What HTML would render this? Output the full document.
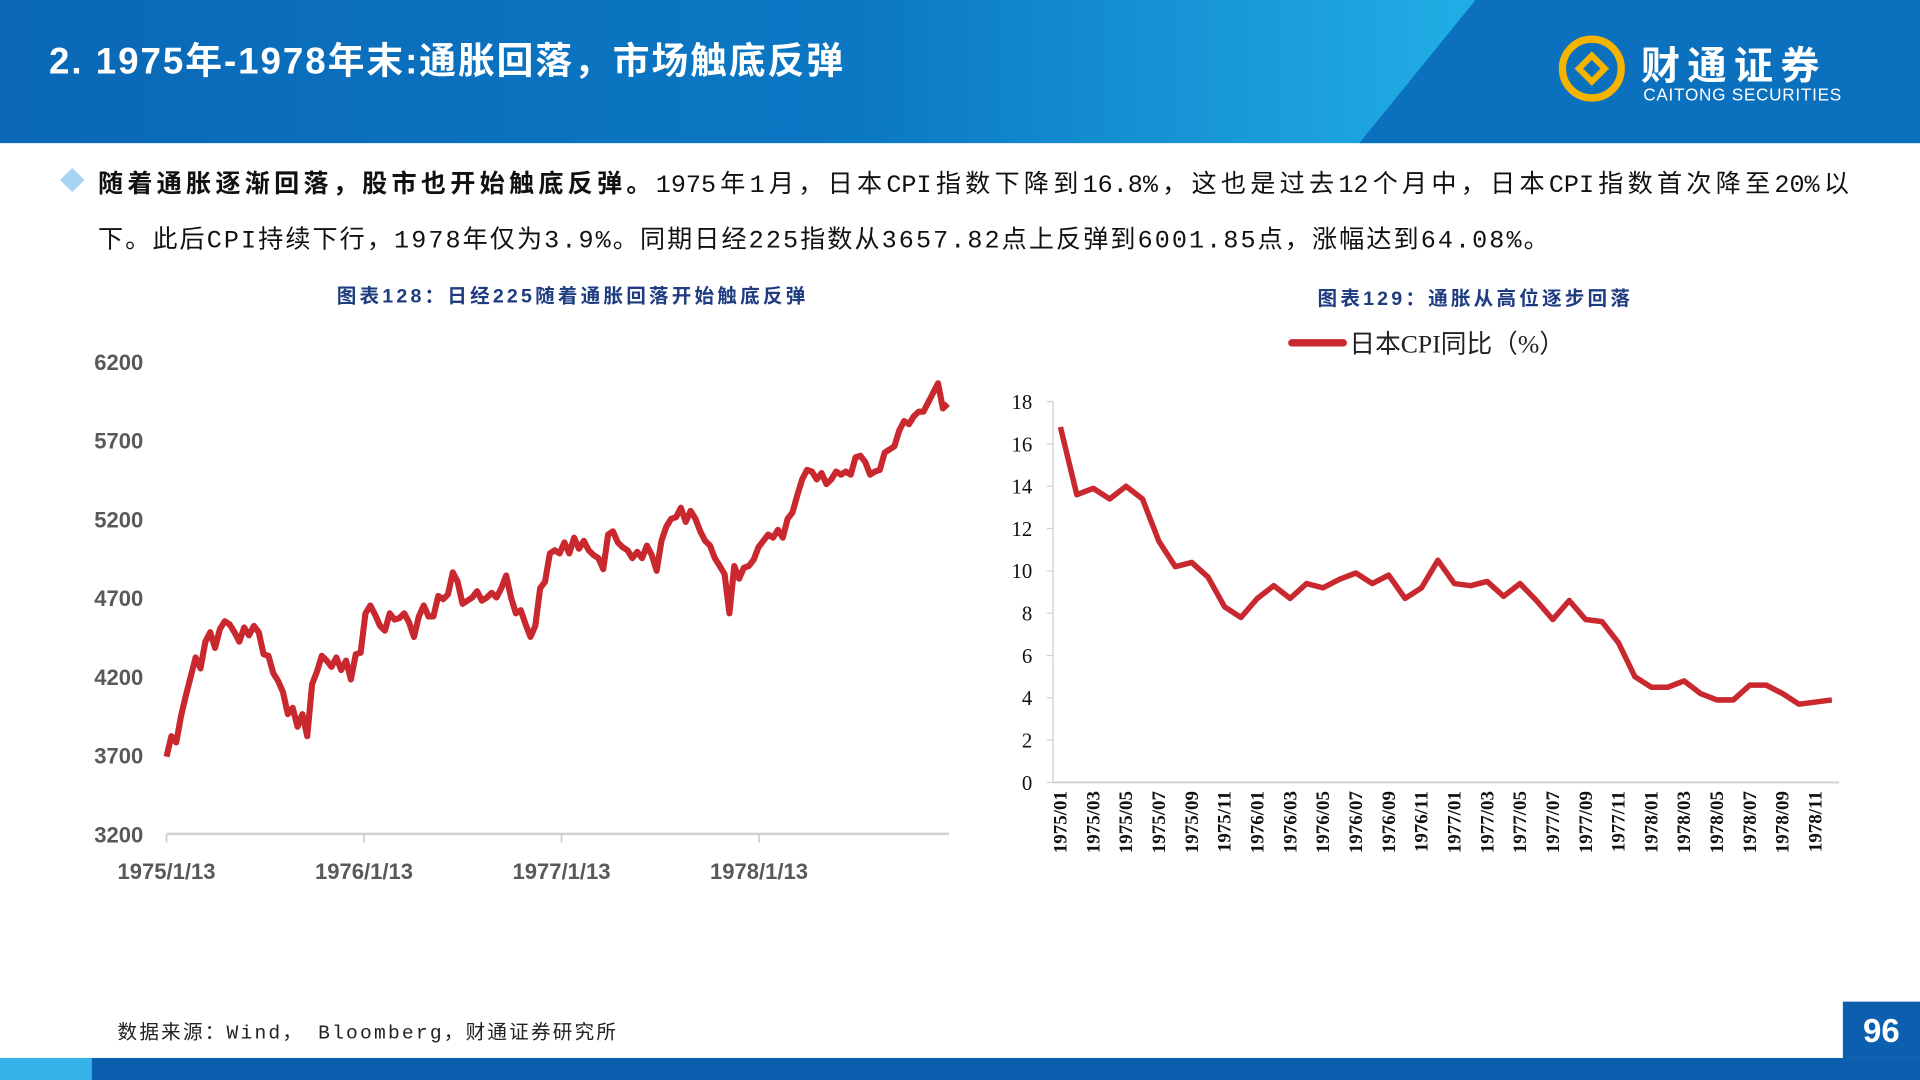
<!DOCTYPE html>
<html><head><meta charset="utf-8">
<style>
html,body{margin:0;padding:0;width:1920px;height:1080px;overflow:hidden;background:#fff}
#wrap{position:absolute;left:0;top:0;width:1568px;height:882px;transform:scale(1.2244898);transform-origin:0 0;font-family:"Liberation Sans","Noto Sans CJK SC",sans-serif}
.abs{position:absolute}
.jl{text-align:justify;text-align-last:justify;white-space:nowrap}
</style></head><body>
<div id="wrap">
<svg class="abs" style="left:0;top:0" width="1568" height="117">
<defs><linearGradient id="hg" x1="0" x2="1"><stop offset="0" stop-color="#0a68b6"/><stop offset="0.45" stop-color="#0b78c4"/><stop offset="0.78" stop-color="#22b0e6"/></linearGradient></defs>
<rect width="1568" height="117" fill="url(#hg)"/>
<polygon points="1205,0 1568,0 1568,117 1110,117" fill="#0b70bd"/>
</svg>
<div class="abs" style="left:40px;top:25px;color:#fff;font-size:30px;font-weight:bold;letter-spacing:1.6px">2. 1975年-1978年末:通胀回落，市场触底反弹</div>
<svg class="abs" style="left:1270px;top:24px" width="64" height="64">
<circle cx="30" cy="32" r="24" fill="none" stroke="#f5b400" stroke-width="6"/>
<rect x="20" y="22" width="20" height="20" transform="rotate(45 30 32)" fill="#f5b400"/>
<rect x="25" y="27" width="10" height="10" transform="rotate(45 30 32)" fill="#0b70bd"/>
</svg>
<div class="abs" style="left:1340px;top:29px;color:#fff;font-size:32px;font-weight:bold;letter-spacing:6px">财通证券</div>
<div class="abs" style="left:1342px;top:69px;color:#fff;font-size:14px;letter-spacing:0.6px">CAITONG SECURITIES</div>

<div class="abs" style="left:52px;top:140px;width:14px;height:14px;background:#a8d4f2;transform:rotate(45deg)"></div>
<div class="abs" style="left:80px;top:126px;width:1430px;font-size:20.5px;line-height:45px;color:#111;font-family:'Liberation Mono','Noto Sans CJK SC',monospace">
<div class="jl"><b style="font-family:'Noto Sans CJK SC',sans-serif">随着通胀逐渐回落，股市也开始触底反弹。</b>1975年1月，日本CPI指数下降到16.8%，这也是过去12个月中，日本CPI指数首次降至20%以</div>
<div style="letter-spacing:1.7px">下。此后CPI持续下行，1978年仅为3.9%。同期日经225指数从3657.82点上反弹到6001.85点，涨幅达到64.08%。</div>
</div>

<div class="abs" style="left:275px;top:228px;color:#1f3c80;font-size:16px;font-weight:bold;letter-spacing:2.6px">图表128：日经225随着通胀回落开始触底反弹</div>
<div class="abs" style="left:1076px;top:230px;color:#1f3c80;font-size:16px;font-weight:bold;letter-spacing:2.6px">图表129：通胀从高位逐步回落</div>

<svg id="c1" class="abs" style="left:0;top:0" width="800" height="760"></svg>
<svg id="c2" class="abs" style="left:0;top:0" width="1568" height="760"></svg>

<div class="abs" style="left:96px;top:829px;font-size:16px;color:#222;font-family:'Liberation Mono','Noto Sans CJK SC',monospace;letter-spacing:1.8px">数据来源：Wind， Bloomberg，财通证券研究所</div>
<div class="abs" style="left:0;top:864px;width:1568px;height:18px;background:#0b5fae"></div>
<div class="abs" style="left:0;top:864px;width:75px;height:18px;background:#36b4ea"></div>
<div class="abs" style="left:1505px;top:818px;width:63px;height:46px;background:#0b5fae;color:#fff;font-size:27px;font-weight:bold;text-align:center;line-height:48px">96</div>
</div>
<script>
const NS="http://www.w3.org/2000/svg";
const nikkeiYTicks=[3200,3700,4200,4700,5200,5700,6200];
const nikkeiXLabels=["1975/1/13","1976/1/13","1977/1/13","1978/1/13"];
const nikkeiValues=[3690,3820,3780,3950,4080,4200,4320,4250,4420,4480,4380,4500,4550,4530,4480,4420,4510,4460,4520,4480,4340,4330,4220,4170,4100,3960,4000,3880,3960,3820,4150,4230,4330,4300,4260,4320,4240,4300,4180,4340,4350,4600,4650,4590,4520,4490,4600,4560,4570,4600,4540,4450,4580,4650,4580,4580,4710,4690,4720,4860,4800,4660,4680,4700,4740,4680,4700,4730,4700,4760,4840,4700,4600,4620,4530,4450,4520,4760,4800,4980,5000,4980,5050,4980,5080,5010,5060,5000,4970,4950,4880,5100,5120,5050,5020,5000,4950,4990,4950,5030,4970,4870,5060,5150,5200,5210,5270,5180,5250,5200,5120,5060,5030,4950,4900,4850,4600,4900,4820,4890,4900,4940,5020,5060,5100,5080,5130,5080,5200,5240,5350,5450,5510,5500,5450,5490,5420,5450,5500,5480,5500,5480,5590,5600,5560,5480,5500,5510,5620,5640,5660,5760,5820,5800,5850,5880,5880,5940,6000,6060,5900,5930];
const cpiLabels=[];
for(let y=1975;y<=1978;y++)for(let m=1;m<=12;m+=2)cpiLabels.push(y+"/"+String(m).padStart(2,"0"));
const cpiYTicks=[0,2,4,6,8,10,12,14,16,18];
const cpiValues=[16.8,13.6,13.9,13.4,14.0,13.4,11.4,10.2,10.4,9.7,8.3,7.8,8.7,9.3,8.7,9.4,9.2,9.6,9.9,9.4,9.8,8.7,9.2,10.5,9.4,9.3,9.5,8.8,9.4,8.6,7.7,8.6,7.7,7.6,6.6,5.0,4.5,4.5,4.8,4.2,3.9,3.9,4.6,4.6,4.2,3.7,3.8,3.9];
function mk(p,t,a,txt){const e=document.createElementNS(NS,t);for(const k in a)e.setAttribute(k,a[k]);if(txt!==undefined)e.textContent=txt;p.appendChild(e);return e;}
const c1=document.getElementById('c1');
const y1=v=>681-(v-3200)/3000*386;
const x1=i=>136+i*(774-136)/(nikkeiValues.length-1);
nikkeiYTicks.forEach(v=>{const t=mk(c1,'text',{x:117,y:y1(v)+7,'text-anchor':'end','font-size':18,'font-weight':'bold',fill:'#595959','font-family':'Liberation Sans'},v);

});
const ax=mk(c1,'line',{x1:136,x2:775,y1:681,y2:681,stroke:'#d0d0d0','stroke-width':2});


nikkeiXLabels.forEach((l,i)=>{const x=136+i*161.3;mk(c1,'line',{x1:x,x2:x,y1:681,y2:688,stroke:'#d0d0d0','stroke-width':1.5});
const t=mk(c1,'text',{x:x,y:718,'text-anchor':'middle','font-size':18,'font-weight':'bold',fill:'#595959','font-family':'Liberation Sans'},l);

});
const p1=mk(c1,'polyline',{points:nikkeiValues.map((v,i)=>x1(i)+','+y1(v)).join(' '),fill:'none',stroke:'#c9282f','stroke-width':5,'stroke-linejoin':'round'});


const c2=document.getElementById('c2');
const y2=v=>639-v/18*311;
const x2=i=>866+i*(1496-866)/(cpiValues.length-1);
mk(c2,'line',{x1:860,x2:860,y1:328,y2:639,stroke:'#cfcfcf','stroke-width':1});
mk(c2,'line',{x1:860,x2:1502,y1:639,y2:639,stroke:'#cfcfcf','stroke-width':1.5});
cpiYTicks.forEach(v=>{mk(c2,'line',{x1:855,x2:860,y1:y2(v),y2:y2(v),stroke:'#cfcfcf'});
const t=mk(c2,'text',{x:843,y:y2(v)+6,'text-anchor':'end','font-size':17,fill:'#111','font-family':'Liberation Serif'},v);

});
cpiLabels.forEach((l,i)=>{const x=x2(i*2);
const t=mk(c2,'text',{x:0,y:0,transform:`translate(${x+5},646) rotate(-90)`,'text-anchor':'end','font-size':15.5,'font-weight':'bold',fill:'#111','font-family':'Liberation Serif'},l);

});
const p2=mk(c2,'polyline',{points:cpiValues.map((v,i)=>x2(i)+','+y2(v)).join(' '),fill:'none',stroke:'#c9282f','stroke-width':4.5,'stroke-linejoin':'round'});


const lg=mk(c2,'line',{x1:1055,x2:1097,y1:280,y2:280,stroke:'#c9282f','stroke-width':6,'stroke-linecap':'round'});


const lt=mk(c2,'text',{x:1102,y:288,'font-size':21,fill:'#222','font-family':'Liberation Serif, Noto Sans CJK SC, sans-serif'},'日本CPI同比（%）');


</script>
</body></html>
